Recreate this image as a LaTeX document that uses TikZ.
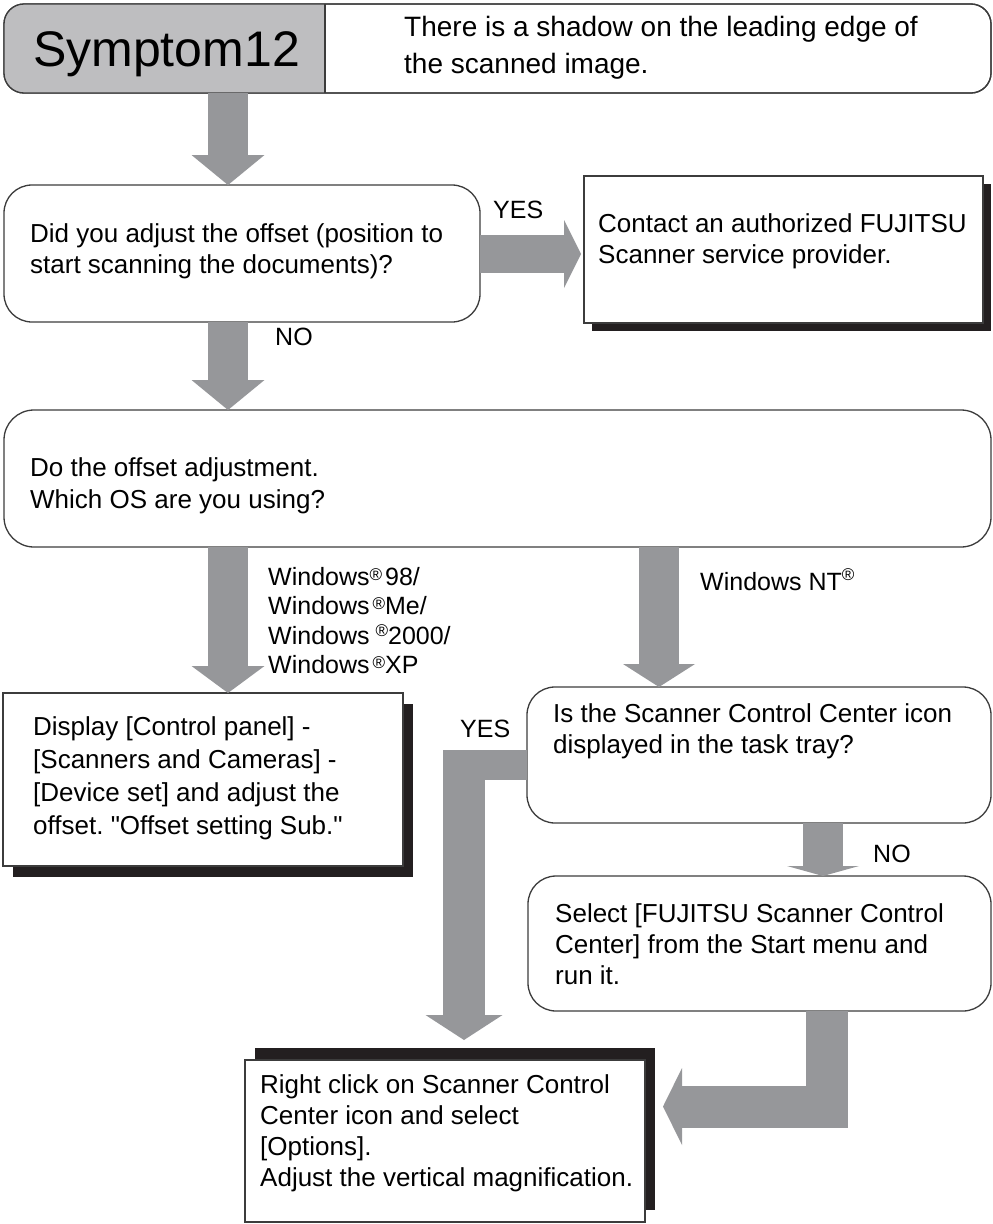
\documentclass[tikz,border=0pt]{standalone}
\usepackage{fontspec}
\setmainfont{Liberation Sans}
\newfontface\plainq{Liberation Sans}
\usetikzlibrary{arrows.meta,calc,shadows}
\definecolor{agray}{RGB}{150,151,154}
\definecolor{sgray}{RGB}{190,190,192}
\definecolor{edgec}{RGB}{60,60,60}
\definecolor{shadowc}{RGB}{35,31,32}
\newcommand\regm[1]{\raisebox{#1}{\fontsize{17}{17}\selectfont ®}}
\newcommand\dq{{\plainq\char34\relax}}
\frenchspacing
\begin{document}
\begin{tikzpicture}[x=1pt,y=-1pt,
  box/.style={draw=edgec, line width=1.3pt, fill=white, inner sep=0pt, outer sep=0pt, anchor=north west},
  rbox/.style={box, rounded corners=28pt},
  txt/.style={inner sep=0pt, anchor=base west, font=\fontsize{26}{31}\selectfont},
  lbl/.style={inner sep=0pt, anchor=base west, font=\fontsize{25}{29.5}\selectfont},
  blk/.style={draw=agray, line width=40pt},
  blocktip/.style 2 args={-{Triangle[length=#1 0, width=#2 0, line width=0pt 0]}}
]
\useasboundingbox (0,0) rectangle (993,1224);

% header
\node[rbox, rounded corners=20pt, minimum width=987pt, minimum height=89pt] (hdr) at (4,4) {};
\coordinate (div) at (325,4);
\begin{scope}
  \clip (hdr.north west) rectangle (div |- hdr.south);
  \fill[sgray, rounded corners=20pt] (hdr.north west) rectangle (hdr.south east);
\end{scope}
\draw[edgec, line width=1.3pt, rounded corners=20pt] (hdr.north west) rectangle (hdr.south east);
\draw[edgec, line width=1.3pt] (div |- hdr.north) -- (div |- hdr.south);
\node[anchor=base west, inner sep=0pt, font=\fontsize{50}{50}\selectfont] (sym) at (33,66) {Symptom12};
\node[txt, font=\fontsize{28}{37}\selectfont] (desc) at (404,36) {\begin{tabular}[t]{@{}l@{}}There is a shadow on the leading edge of\\the scanned image.\end{tabular}};

% boxes
\node[rbox, minimum width=476pt, minimum height=137pt] (b2) at (4,185) {};
\node[txt] (t2) at (30,242) {\begin{tabular}[t]{@{}l@{}}Did you adjust the offset (position to\\start scanning the documents)?\end{tabular}};

\node[box, general shadow={fill=shadowc, shadow xshift=8pt, shadow yshift=-8pt}, minimum width=399pt, minimum height=147pt] (b3) at (584,176) {};
\node[txt] (t3) at (598,232) {\begin{tabular}[t]{@{}l@{}}Contact an authorized FUJITSU\\Scanner service provider.\end{tabular}};

\node[rbox, rounded corners=30pt, minimum width=987pt, minimum height=137pt] (b4) at (4,410) {};
\node[txt, font=\fontsize{26}{32}\selectfont] (t4) at (30,476) {\begin{tabular}[t]{@{}l@{}}Do the offset adjustment.\\Which OS are you using?\end{tabular}};

\node[box, general shadow={fill=shadowc, shadow xshift=10pt, shadow yshift=-11pt}, minimum width=400pt, minimum height=173pt] (b5) at (3,693) {};
\node[txt, font=\fontsize{26}{33.3}\selectfont] (t5) at (33,735) {\begin{tabular}[t]{@{}l@{}}Display [Control panel] -\\{}[Scanners and Cameras] -\\{}[Device set] and adjust the\\offset. \dq Offset setting Sub.\dq\end{tabular}};

\node[rbox, minimum width=464pt, minimum height=136pt] (b6) at (527,687) {};
\node[txt] (t6) at (553,722) {\begin{tabular}[t]{@{}l@{}}Is the Scanner Control Center icon\\displayed in the task tray?\end{tabular}};

\node[rbox, minimum width=463pt, minimum height=135pt] (b8) at (528,876) {};
\node[txt] (t8) at (555,922) {\begin{tabular}[t]{@{}l@{}}Select [FUJITSU Scanner Control\\Center] from the Start menu and\\run it.\end{tabular}};

\node[box, general shadow={fill=shadowc, shadow xshift=10pt, shadow yshift=12pt}, minimum width=400pt, minimum height=162pt] (b7) at (245,1060) {};
\node[txt] (t7) at (260,1093) {\begin{tabular}[t]{@{}l@{}}Right click on Scanner Control\\Center icon and select\\{}[Options].\\Adjust the vertical magnification.\end{tabular}};

% arrow coordinates
\coordinate (x1) at (228,0);
\coordinate (c2t) at (581,254);
\coordinate (x5) at (659,0);
\coordinate (x6) at (823,0);
\coordinate (c6h) at (443,765);
\coordinate (c6v) at (464,750);
\coordinate (c6t) at (464,1040);
\coordinate (x7) at (826.5,0);
\coordinate (c7t) at (663,1106.5);

% arrows
\draw[blk, blocktip={30pt}{73pt}] (hdr.south -| x1) -- (b2.north -| x1);
\draw[blk, line width=38pt, blocktip={17pt}{68pt}] (b2.east |- c2t) -- (c2t);
\draw[blk, blocktip={30pt}{73pt}] (b2.south -| x1) -- (b4.north -| x1);
\draw[blk, blocktip={27pt}{73pt}] (b4.south -| x1) -- (b5.north -| x1);
\draw[blk, blocktip={23pt}{72pt}] (b4.south -| x5) -- (b6.north -| x5);
\draw[blk, blocktip={10pt}{72pt}] (b6.south -| x6) -- (b8.north -| x6);
\draw[draw=agray, line width=30pt] (b6.west |- c6h) -- (c6h);
\draw[blk, line width=42pt, blocktip={25pt}{77pt}] (c6v) -- (c6t);
\draw[blk, line width=42pt, line join=miter, blocktip={19pt}{77pt}] (b8.south -| x7) |- (c7t);

% labels
\node[lbl] (yes1) at (493,218) {YES};
\node[lbl] (no1) at (275,345) {NO};
\node[lbl] (win) at (268,585) {\begin{tabular}[t]{@{}l@{}}Windows\regm{5pt}\hspace{3pt}98/\\Windows\hspace{3pt}\regm{5pt}Me/\\Windows\hspace{6pt}\regm{8pt}2000/\\Windows\hspace{3pt}\regm{5pt}XP\end{tabular}};
\node[lbl] (nt) at (700,590) {Windows NT\regm{10pt}};
\node[lbl] (yes2) at (460,737) {YES};
\node[lbl] (no2) at (873,862) {NO};
\end{tikzpicture}
\end{document}
